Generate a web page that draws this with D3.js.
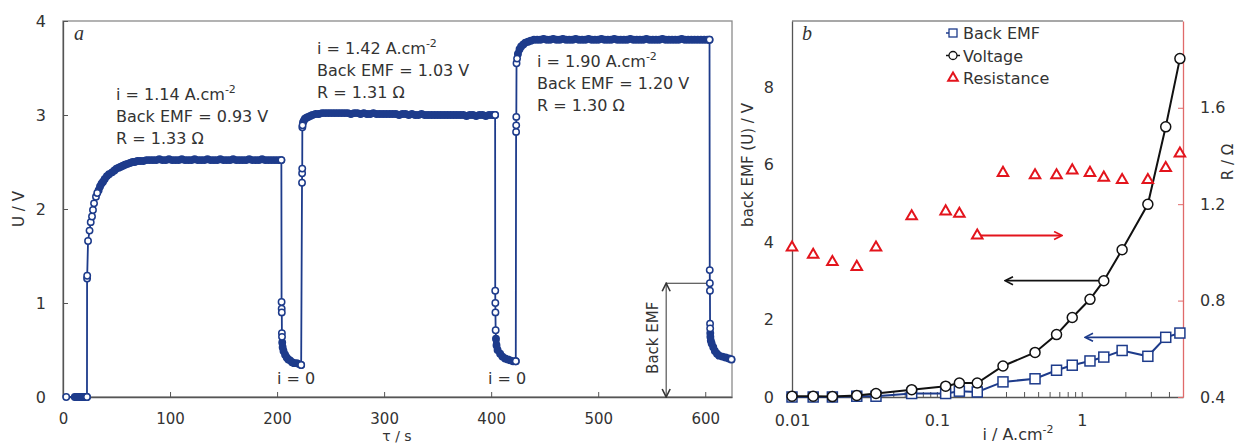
<!DOCTYPE html>
<html>
<head>
<meta charset="utf-8">
<script src="https://cdnjs.cloudflare.com/ajax/libs/d3/7.8.5/d3.min.js"></script>
<style>
body { margin: 0; background: #fff; }
text { font-family: "DejaVu Sans", Verdana, sans-serif; fill: #333; }
</style>
</head>
<body>
<svg id="vis" width="1239" height="444"></svg>
<script>
window.onload = function(){
    setup();
};

var navy = "#1d3b8b";
var red = "#e3141c";

// ---- panel a : cell voltage vs time, [t (s), U (V)]
var lead = [[3, 0]];
var rest = [[11, 0], [12.5, 0], [14, 0], [15.5, 0], [17, 0], [18.5, 0], [20, 0], [21.5, 0], [22.4, 0]];
var jump1 = [[22.5, 1.26], [22.6, 1.29], [23.4, 1.66], [24.8, 1.77], [25.9, 1.86], [27.1, 1.92], [28, 1.99], [29, 2.06], [30.8, 2.13], [32, 2.17]];
var plateau1 = [[33.3, 2.2], [34.6, 2.24], [36, 2.27], [37.4, 2.29], [39, 2.32], [41, 2.35], [43, 2.37], [45.8, 2.39], [48, 2.41], [50, 2.43],
    [52, 2.44], [54, 2.45], [56, 2.46], [58, 2.47], [60, 2.48], [62.6, 2.49], [65, 2.5], [67, 2.5], [69.5, 2.51], [72, 2.51],
    [75, 2.51], [78, 2.52], [81, 2.52], [84, 2.52], [87, 2.52], [90, 2.53], [93, 2.52], [96, 2.52], [99, 2.53], [102, 2.52],
    [105, 2.52], [108, 2.52], [111, 2.53], [114, 2.52], [117, 2.52], [120, 2.52], [123, 2.53], [126, 2.52], [129, 2.52], [132, 2.52],
    [135, 2.53], [138, 2.52], [141, 2.52], [144, 2.52], [147, 2.53], [150, 2.52], [153, 2.52], [156, 2.52], [159, 2.53], [162, 2.52],
    [165, 2.52], [168, 2.52], [171, 2.52], [174, 2.53], [177, 2.52], [180, 2.52], [183, 2.52], [186, 2.53], [189, 2.52], [192, 2.52],
    [195, 2.52], [198, 2.52], [201, 2.52], [204, 2.52]];
var drop1 = [[204.2, 1.01], [204.3, 0.94], [204.4, 0.9], [204.5, 0.68], [204.6, 0.64]];
var tail1 = [[204.8, 0.58], [205.2, 0.53], [206, 0.49], [207.5, 0.45], [209, 0.42], [210.5, 0.4], [212.1, 0.39], [214, 0.37],
    [216, 0.36], [218.4, 0.36], [220.5, 0.35], [222.5, 0.34]];
var jump2 = [[223.3, 2.28], [223.4, 2.38], [223.5, 2.43], [223.6, 2.87], [223.8, 2.89]];
var plateau2 = [[224.2, 2.92], [225, 2.94], [226, 2.96], [227.5, 2.97], [229, 2.98], [231, 2.99], [233, 3.0], [236, 3.01], [239, 3.01], [242, 3.02],
    [245, 3.02], [248, 3.02], [251, 3.02], [254, 3.02], [257, 3.02], [260, 3.02], [263, 3.02], [266, 3.02], [269, 3.01], [272, 3.02],
    [275, 3.02], [278, 3.01], [281, 3.02], [284, 3.01], [287, 3.01], [290, 3.02], [293, 3.01], [296, 3.01], [299, 3.01], [302, 3.01],
    [305, 3.01], [308, 3.01], [311, 3.01], [314, 3.0], [317, 3.01], [320, 3.01], [323, 3.0], [326, 3.01], [329, 3.0], [332, 3.0],
    [335, 3.01], [338, 3.0], [341, 3.0], [344, 3.0], [347, 3.0], [350, 3.0], [353, 3.0], [356, 3.0], [359, 3.0], [362, 3.0],
    [365, 3.0], [368, 3.0], [371, 3.0], [374, 3.0], [377, 2.99], [380, 3.0], [383, 3.0], [386, 2.99], [389, 3.0], [392, 3.0],
    [395, 2.99], [398, 3.0], [401, 3.0], [403.7, 3.0]];
var drop2 = [[403.8, 1.13], [403.9, 1.0], [404, 0.9], [404.2, 0.71]];
var tail2 = [[404.5, 0.62], [405, 0.55], [406, 0.5], [408.4, 0.46], [410.5, 0.43], [413, 0.41], [415.5, 0.4], [417.8, 0.39], [420.5, 0.38], [423, 0.38]];
var jump3 = [[423.3, 2.82], [423.4, 2.89], [423.5, 2.98], [423.7, 3.55], [424.2, 3.6]];
var plateau3 = [[425, 3.65], [426.5, 3.7], [428, 3.73], [430, 3.75], [432, 3.77], [434.5, 3.78], [437, 3.79], [440, 3.8],
    [443, 3.8], [446, 3.8], [449, 3.81], [452, 3.8], [455, 3.8], [458, 3.81], [461, 3.8], [464, 3.8], [467, 3.81], [470, 3.8],
    [473, 3.8], [476, 3.8], [479, 3.81], [482, 3.8], [485, 3.8], [488, 3.8], [491, 3.81], [494, 3.8], [497, 3.8], [500, 3.8],
    [503, 3.81], [506, 3.8], [509, 3.8], [512, 3.8], [515, 3.81], [518, 3.8], [521, 3.8], [524, 3.8], [527, 3.8], [530, 3.81],
    [533, 3.8], [536, 3.8], [539, 3.8], [542, 3.8], [545, 3.81], [548, 3.8], [551, 3.8], [554, 3.8], [557, 3.8], [560, 3.81],
    [563, 3.8], [566, 3.8], [569, 3.8], [572, 3.8], [575, 3.8], [578, 3.81], [581, 3.8], [584, 3.8], [587, 3.8], [590, 3.8],
    [593, 3.8], [596, 3.8], [599, 3.8], [602, 3.8], [604, 3.8]];
var drop3 = [[604.2, 1.35], [604.3, 1.21], [604.4, 1.13], [604.5, 0.78], [604.6, 0.73]];
var tail3 = [[604.7, 0.68], [604.8, 0.64], [605.2, 0.6], [606, 0.57], [607.5, 0.53], [609, 0.49], [611, 0.46], [613, 0.44],
    [616, 0.43], [619, 0.42], [622, 0.41], [624.5, 0.4]];

var tauTicks = [0, 100, 200, 300, 400, 500, 600];
var uTicks = [0, 1, 2, 3, 4];

// ---- panel b : values vs current density
var currents = [0.01, 0.014, 0.019, 0.028, 0.038, 0.067, 0.115, 0.143, 0.19, 0.286, 0.476, 0.67, 0.86, 1.14, 1.42, 1.90, 2.86, 3.8, 4.76];
var backEmf = [0, 0, 0, 0.02, 0.02, 0.09, 0.09, 0.15, 0.13, 0.39, 0.47, 0.69, 0.82, 0.93, 1.03, 1.20, 1.05, 1.54, 1.65];
var voltage = [0.02, 0.02, 0.01, 0.04, 0.09, 0.19, 0.28, 0.36, 0.36, 0.8, 1.15, 1.61, 2.05, 2.52, 3.0, 3.8, 4.97, 6.97, 8.73];
var resistance = [1.02, 0.99, 0.96, 0.94, 1.02, 1.15, 1.17, 1.16, 1.07, 1.33, 1.32, 1.32, 1.34, 1.33, 1.31, 1.30, 1.30, 1.35, 1.41];

var leftTicks = [0, 2, 4, 6, 8];
var rightTicks = [0.4, 0.8, 1.2, 1.6];
var legendNames = ["Back EMF", "Voltage", "Resistance"];


function setup(){
    var svg = d3.select("#vis");
    svg.append("rect").attr("width", 1239).attr("height", 444).attr("fill", "#fff");

    var defs = svg.append("defs");
    makeArrow(defs, "arrRed", red);
    makeArrow(defs, "arrBlack", "#111");
    makeArrow(defs, "arrNavy", navy);
    makeArrow(defs, "arrThin", "#333");

    drawPanelA(svg);
    drawPanelB(svg);
}

function makeArrow(defs, id, colour){
    defs.append("marker")
        .attr("id", id)
        .attr("viewBox", "-1 -5 10 10")
        .attr("refX", 7)
        .attr("refY", 0)
        .attr("markerWidth", 10)
        .attr("markerHeight", 10)
        .attr("markerUnits", "userSpaceOnUse")
        .attr("orient", "auto-start-reverse")
        .append("path")
        .attr("d", "M0,-4L8,0L0,4")
        .attr("fill", "none")
        .attr("stroke", colour)
        .attr("stroke-width", 1.6);
}

function styleAxis(g, colour, size){
    size = size === undefined ? 16 : size;
    g.select(".domain").attr("stroke", colour).attr("stroke-width", 1.3);
    g.selectAll(".tick line").attr("stroke", colour);
    g.selectAll(".tick text").attr("font-size", size).attr("fill", "#333")
        .style("font-family", "'DejaVu Sans', Verdana, sans-serif");
}

function addSuperLabel(sel, main, sup){
    sel.append("tspan").text(main);
    sel.append("tspan").attr("font-size", 11).attr("dy", -7).text(sup);
}

function drawPanelA(svg){
    var x = d3.scaleLinear().domain([0, 625]).range([63, 732]);
    var y = d3.scaleLinear().domain([0, 4]).range([397, 21]);
    var g = svg.append("g");

    // box
    g.append("rect")
        .attr("x", x.range()[0]).attr("y", y.range()[1])
        .attr("width", x.range()[1] - x.range()[0])
        .attr("height", y.range()[0] - y.range()[1])
        .attr("fill", "none").attr("stroke", "#8a8a8a").attr("stroke-width", 1.3);

    var xAxis = g.append("g").attr("transform", "translate(0," + y.range()[0] + ")")
        .call(d3.axisBottom(x).tickValues(tauTicks).tickSize(-5).tickSizeOuter(0).tickPadding(16)
            .tickFormat(d3.format("d")));
    styleAxis(xAxis, "#555", 15);
    var yAxis = g.append("g").attr("transform", "translate(" + x.range()[0] + ",0)")
        .call(d3.axisLeft(y).tickValues(uTicks).tickSize(-5).tickSizeOuter(0).tickPadding(17)
            .tickFormat(d3.format("d")));
    styleAxis(yAxis, "#555");

    g.append("text").attr("x", 397).attr("y", 440.5).attr("text-anchor", "middle")
        .attr("font-size", 14).text("τ / s");
    g.append("text").attr("transform", "translate(24,209) rotate(-90)").attr("text-anchor", "middle")
        .attr("font-size", 15).text("U / V");
    g.append("text").attr("x", 74).attr("y", 40).attr("font-size", 20)
        .style("font-family", "'Liberation Serif', 'DejaVu Serif', serif")
        .attr("font-style", "italic").attr("fill", navy).text("a");

    // Back EMF bracket on the last relaxation
    var emfT = 563.5, emfU = drop3[1][1];
    g.append("line")
        .attr("x1", x(emfT)).attr("x2", x(emfT))
        .attr("y1", y(0) - 1).attr("y2", y(emfU) + 1)
        .attr("stroke", "#333").attr("stroke-width", 1)
        .attr("marker-start", "url(#arrThin)").attr("marker-end", "url(#arrThin)");
    g.append("line")
        .attr("x1", x(emfT)).attr("x2", x(drop3[1][0]))
        .attr("y1", y(emfU)).attr("y2", y(emfU))
        .attr("stroke", "#333").attr("stroke-width", 1);
    g.append("text").attr("transform", "translate(" + (x(emfT) - 8) + "," + y(0.63) + ") rotate(-90)")
        .attr("text-anchor", "middle").attr("font-size", 15).text("Back EMF");

    var segments = [
        {pts: lead, dense: false}, {pts: rest, dense: true}, {pts: jump1, dense: false},
        {pts: plateau1, dense: true}, {pts: drop1, dense: false}, {pts: tail1, dense: true},
        {pts: jump2, dense: false}, {pts: plateau2, dense: true}, {pts: drop2, dense: false},
        {pts: tail2, dense: true}, {pts: jump3, dense: false}, {pts: plateau3, dense: true},
        {pts: drop3, dense: false}, {pts: tail3, dense: true}
    ];
    var all = [];
    segments.forEach(function(s){ all = all.concat(s.pts); });

    var line = d3.line().x(function(d){ return x(d[0]); }).y(function(d){ return y(d[1]); });

    g.append("path").datum(all).attr("d", line)
        .attr("fill", "none").attr("stroke", navy).attr("stroke-width", 1.8);

    var densePts = [], topPts = [];
    segments.forEach(function(s){
        if (s.dense) {
            densePts = densePts.concat(s.pts);
            topPts.push(s.pts[s.pts.length - 1]);
        } else {
            topPts = topPts.concat(s.pts);
        }
    });

    g.append("g").selectAll("circle").data(densePts).enter().append("circle")
        .attr("cx", function(d){ return x(d[0]); })
        .attr("cy", function(d){ return y(d[1]); })
        .attr("r", 3.2).attr("fill", "#fff").attr("stroke", navy).attr("stroke-width", 1.5);

    // closely packed markers merge to a solid band
    segments.filter(function(s){ return s.dense; }).forEach(function(s){
        g.append("path").datum(s.pts).attr("d", line)
            .attr("fill", "none").attr("stroke", navy).attr("stroke-width", 6.5)
            .attr("stroke-linejoin", "round").attr("stroke-linecap", "round");
    });

    g.append("g").selectAll("circle").data(topPts).enter().append("circle")
        .attr("cx", function(d){ return x(d[0]); })
        .attr("cy", function(d){ return y(d[1]); })
        .attr("r", 3.2).attr("fill", "#fff").attr("stroke", navy).attr("stroke-width", 1.5);

    // run annotations
    var notes = [
        {x: 116, y: 100, lines: ["i = 1.14 A.cm", "Back EMF = 0.93 V", "R = 1.33 Ω"]},
        {x: 317, y: 54, lines: ["i = 1.42 A.cm", "Back EMF = 1.03 V", "R = 1.31 Ω"]},
        {x: 537, y: 67, lines: ["i = 1.90 A.cm", "Back EMF = 1.20 V", "R = 1.30 Ω"]}
    ];
    notes.forEach(function(n){
        n.lines.forEach(function(txt, k){
            var t = g.append("text").attr("x", n.x).attr("y", n.y + k * 22).attr("font-size", 16);
            if (k == 0) addSuperLabel(t, txt, "-2");
            else t.text(txt);
        });
    });
    g.append("text").attr("x", 277).attr("y", 384).attr("font-size", 16).text("i = 0");
    g.append("text").attr("x", 488).attr("y", 384).attr("font-size", 16).text("i = 0");
}

function drawPanelB(svg){
    var x = d3.scaleLog().domain([0.01, 5]).range([792, 1183]);
    var yL = d3.scaleLinear().domain([0, 9.7]).range([397, 21]);
    var yR = d3.scaleLinear().domain([0.4, 1.96]).range([397, 21]);
    var g = svg.append("g");
    var x0 = x.range()[0], x1 = x.range()[1], yTop = yL.range()[1];

    g.append("line").attr("x1", x0).attr("x2", x1).attr("y1", yTop).attr("y2", yTop)
        .attr("stroke", "#8a8a8a").attr("stroke-width", 1.3);

    var logTicks = x.ticks().filter(function(d){ return d < 4.9; });
    var isMajor = function(d){ return Math.abs(Math.log10(d) - Math.round(Math.log10(d))) < 1e-6; };
    var xAxis = g.append("g").attr("transform", "translate(0," + yL.range()[0] + ")")
        .call(d3.axisBottom(x).tickValues(logTicks).tickSize(-5).tickSizeOuter(0).tickPadding(18)
            .tickFormat(function(d){ return isMajor(d) ? d3.format("~g")(d) : ""; }));
    styleAxis(xAxis, "#555");

    var yAxisL = g.append("g").attr("transform", "translate(" + x0 + ",0)")
        .call(d3.axisLeft(yL).tickValues(leftTicks).tickSize(0).tickSizeOuter(0).tickPadding(18)
            .tickFormat(d3.format("d")));
    styleAxis(yAxisL, "#555");

    var yAxisR = g.append("g").attr("transform", "translate(" + x1 + ",0)")
        .call(d3.axisRight(yR).tickValues(rightTicks).tickSize(-5).tickSizeOuter(0).tickPadding(17)
            .tickFormat(d3.format(".1f")));
    styleAxis(yAxisR, "#e06a6a");

    var xl = g.append("text").attr("x", 1018).attr("y", 440).attr("text-anchor", "middle").attr("font-size", 16);
    addSuperLabel(xl, "i / A.cm", "-2");
    g.append("text").attr("transform", "translate(753,165) rotate(-90)").attr("text-anchor", "middle")
        .attr("font-size", 15).text("back EMF (U) / V");
    g.append("text").attr("transform", "translate(1233,162) rotate(-90)").attr("text-anchor", "middle")
        .attr("font-size", 15).text("R / Ω");
    g.append("text").attr("x", 802).attr("y", 40).attr("font-size", 20)
        .style("font-family", "'Liberation Serif', 'DejaVu Serif', serif")
        .attr("font-style", "italic").attr("fill", navy).text("b");

    var rows = currents.map(function(c, k){
        return {i: c, emf: backEmf[k], u: voltage[k], r: resistance[k]};
    });

    // guide arrows toward the matching axis
    var r19 = rows[8], r142 = rows[14], r38 = rows[17];
    g.append("line").attr("x1", x(r19.i)).attr("x2", x(0.72)).attr("y1", yR(r19.r)).attr("y2", yR(r19.r))
        .attr("stroke", red).attr("stroke-width", 1.8).attr("marker-end", "url(#arrRed)");
    g.append("line").attr("x1", x(r142.i)).attr("x2", x(0.3)).attr("y1", yL(r142.u)).attr("y2", yL(r142.u))
        .attr("stroke", "#111").attr("stroke-width", 1.8).attr("marker-end", "url(#arrBlack)");
    g.append("line").attr("x1", x(r38.i)).attr("x2", x(1.07)).attr("y1", yL(r38.emf)).attr("y2", yL(r38.emf))
        .attr("stroke", navy).attr("stroke-width", 1.8).attr("marker-end", "url(#arrNavy)");

    var emfLine = d3.line().x(function(d){ return x(d.i); }).y(function(d){ return yL(d.emf); });
    var uLine = d3.line().x(function(d){ return x(d.i); }).y(function(d){ return yL(d.u); });

    g.append("path").datum(rows).attr("d", emfLine).attr("fill", "none").attr("stroke", navy).attr("stroke-width", 2);
    g.append("g").selectAll("rect").data(rows).enter().append("rect")
        .attr("x", function(d){ return x(d.i) - 5; })
        .attr("y", function(d){ return yL(d.emf) - 5; })
        .attr("width", 10).attr("height", 10)
        .attr("fill", "#fff").attr("stroke", navy).attr("stroke-width", 1.5);

    g.append("path").datum(rows).attr("d", uLine).attr("fill", "none").attr("stroke", "#111").attr("stroke-width", 2);
    g.append("g").selectAll("circle").data(rows).enter().append("circle")
        .attr("cx", function(d){ return x(d.i); })
        .attr("cy", function(d){ return yL(d.u); })
        .attr("r", 5).attr("fill", "#fff").attr("stroke", "#111").attr("stroke-width", 1.5);

    var tri = d3.symbol().type(d3.symbolTriangle).size(48);
    g.append("g").selectAll("path").data(rows).enter().append("path")
        .attr("d", tri)
        .attr("transform", function(d){ return "translate(" + x(d.i) + "," + yR(d.r) + ")"; })
        .attr("fill", "#fff").attr("stroke", red).attr("stroke-width", 2);

    // legend
    var lg = g.append("g").attr("transform", "translate(953,33)");
    legendNames.forEach(function(name, k){
        var row = lg.append("g").attr("transform", "translate(0," + (k * 22.5) + ")");
        if (k == 0) {
            row.append("line").attr("x1", -7).attr("x2", 0).attr("stroke", navy).attr("stroke-width", 1.5);
            row.append("rect").attr("x", -4).attr("y", -4).attr("width", 8).attr("height", 8)
                .attr("fill", "#fff").attr("stroke", navy).attr("stroke-width", 1.3);
        } else if (k == 1) {
            row.append("line").attr("x1", -7).attr("x2", 7).attr("stroke", "#111").attr("stroke-width", 1.5);
            row.append("circle").attr("r", 4).attr("fill", "#fff").attr("stroke", "#111").attr("stroke-width", 1.3);
        } else {
            row.append("path").attr("d", d3.symbol().type(d3.symbolTriangle).size(40))
                .attr("fill", "#fff").attr("stroke", red).attr("stroke-width", 2);
        }
        row.append("text").attr("x", 10).attr("y", 6).attr("font-size", 16).text(name);
    });
}
</script>
</body>
</html>
